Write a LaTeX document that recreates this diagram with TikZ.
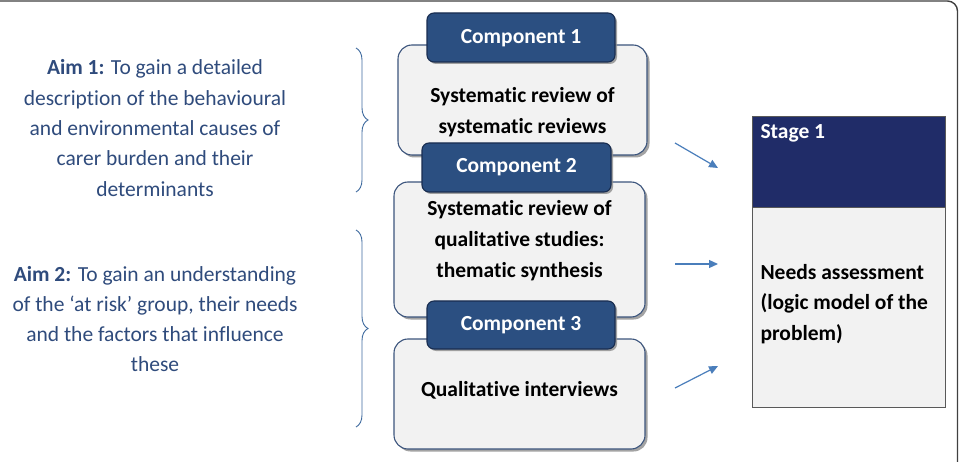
\documentclass[tikz,border=0pt]{standalone}
\usepackage{fontspec}
\setmainfont[Ligatures={NoCommon}]{Carlito}
\usetikzlibrary{shadows,decorations.pathreplacing,arrows.meta}
\definecolor{tabblue}{RGB}{43,79,129}
\definecolor{tabedge}{RGB}{25,45,80}
\definecolor{bodyfill}{RGB}{242,242,242}
\definecolor{bodyedge}{RGB}{60,85,125}
\definecolor{stagenavy}{RGB}{32,44,104}
\definecolor{aimblue}{RGB}{47,75,124}
\definecolor{arrowblue}{RGB}{74,126,187}
\tikzset{
  bodybox/.style={draw=bodyedge, line width=1.1pt, fill=bodyfill, rounded corners=14pt,
    drop shadow={shadow xshift=2.5pt, shadow yshift=-2.5pt, fill=black!45, opacity=0.8}},
  tabbox/.style={draw=tabedge, line width=1.1pt, fill=tabblue, rounded corners=7pt,
    drop shadow={shadow xshift=2pt, shadow yshift=-2pt, fill=black!45, opacity=0.8}},
  tablabel/.style={text=white, font=\fontsize{21.5}{24}\selectfont\bfseries},
  bodylabel/.style={text=black, font=\fontsize{21.5}{31}\selectfont\bfseries, align=center},
  aimtext/.style={text=aimblue, font=\fontsize{21.5}{30.3}\selectfont, align=center},
  aimbrace/.style={draw=arrowblue!85!black, line width=0.9pt, decorate,
    decoration={brace, amplitude=12pt, aspect=0.5}},
  flowarrow/.style={draw=arrowblue, line width=1.2pt, -{Triangle[length=9pt,width=8pt]}},
}
\begin{document}
\begin{tikzpicture}[x=1pt,y=-1pt]
\useasboundingbox (0,0) rectangle (961,462);
\begin{scope}
\clip (0,0) rectangle (961,462);
\fill[white] (0,0) rectangle (961,462);
\draw[line width=1.4pt, black!75, rounded corners=10pt] (-30,1) rectangle (957.5,520);
\end{scope}
% component boxes
\path[bodybox] (398,45) rectangle (647,155);
\node[bodylabel] (b1) at (522.5,112) {Systematic review of\\systematic reviews};
\path[tabbox] (427,13) rectangle (615,62);
\node[tablabel] (t1) at (521,38) {Component 1};
\path[bodybox] (394,182) rectangle (645,317);
\node[bodylabel] (b2) at (519.5,241) {Systematic review of\\qualitative studies:\\thematic synthesis};
\path[tabbox] (422,143) rectangle (611,192);
\node[tablabel] (t2) at (516.5,167) {Component 2};
\path[bodybox] (394,339) rectangle (645,449);
\node[bodylabel] (b3) at (519.5,390) {Qualitative interviews};
\path[tabbox] (427,301) rectangle (615,349);
\node[tablabel] (t3) at (521,325) {Component 3};
% stage
\path[draw=black!65, line width=1pt, fill=bodyfill] (752,117) rectangle (945,407);
\path[draw=black!65, line width=1pt, fill=stagenavy] (752,117) rectangle (945,208);
\node[anchor=north west, text=white, font=\fontsize{21.5}{24}\selectfont\bfseries] (s1) at (757,121) {Stage 1};
\node[anchor=west, text=black, font=\fontsize{21.5}{30.5}\selectfont\bfseries, align=left] (needs) at (757,304) {Needs assessment\\(logic model of the\\problem)};
% arrows
\coordinate (a1s) at (675,143); \coordinate (a1e) at (718,168);
\coordinate (a2s) at (675,264); \coordinate (a2e) at (718,264);
\coordinate (a3s) at (675,388); \coordinate (a3e) at (718,366);
\draw[flowarrow] (a1s) -- (a1e);
\draw[flowarrow] (a2s) -- (a2e);
\draw[flowarrow] (a3s) -- (a3e);
% braces
\coordinate (br1t) at (356,48); \coordinate (br1b) at (356,192);
\coordinate (br2t) at (356,230); \coordinate (br2b) at (356,427);
\draw[aimbrace] (br1t) -- (br1b);
\draw[aimbrace] (br2t) -- (br2b);
% aims
\node[aimtext] (aim1) at (155,128) {\textbf{Aim 1:} To gain a detailed\\description of the behavioural\\and environmental causes of\\carer burden and their\\determinants};
\node[aimtext] (aim2) at (155,319) {\textbf{Aim 2:} To gain an understanding\\of the ‘at risk’ group, their needs\\and the factors that influence\\these};
\end{tikzpicture}
\end{document}
